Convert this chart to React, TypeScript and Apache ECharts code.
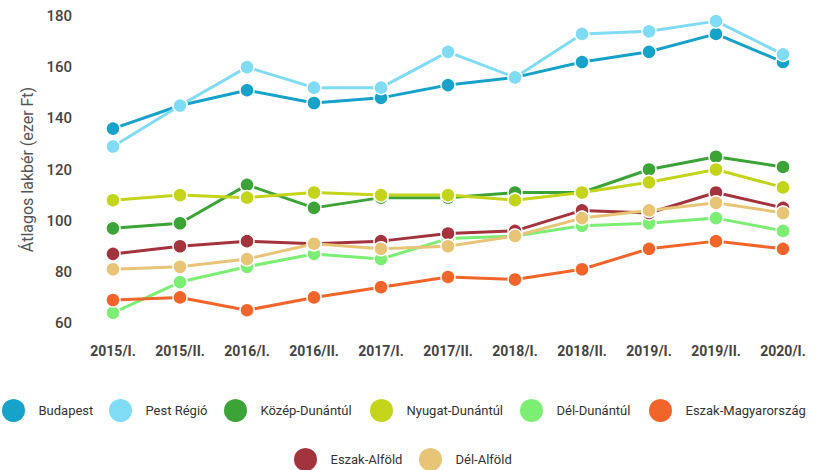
import React, { useEffect, useRef } from "react";
import * as echarts from "echarts";

const categories = ["2015/I.", "2015/II.", "2016/I.", "2016/II.", "2017/I.", "2017/II.", "2018/I.", "2018/II.", "2019/I.", "2019/II.", "2020/I."];

const budapest = [136, 145, 151, 146, 148, 153, 156, 162, 166, 173, 162];
const pestRegio = [129, 145, 160, 152, 152, 166, 156, 173, 174, 178, 165];
const kozepDunantul = [97, 99, 114, 105, 109, 109, 111, 111, 120, 125, 121];
const nyugatDunantul = [108, 110, 109, 111, 110, 110, 108, 111, 115, 120, 113];
const delDunantul = [64, 76, 82, 87, 85, 93, 94, 98, 99, 101, 96];
const eszakMagyarorszag = [69, 70, 65, 70, 74, 78, 77, 81, 89, 92, 89];
const eszakAlfold = [87, 90, 92, 91, 92, 95, 96, 104, 103, 111, 105];
const delAlfold = [81, 82, 85, 91, 89, 90, 94, 101, 104, 107, 103];

const seriesNames = ["Budapest", "Pest Régió", "Közép-Dunántúl", "Nyugat-Dunántúl", "Dél-Dunántúl", "Eszak-Magyarország", "Eszak-Alföld", "Dél-Alföld"];
const seriesData = [budapest, pestRegio, kozepDunantul, nyugatDunantul, delDunantul, eszakMagyarorszag, eszakAlfold, delAlfold];
const colors = ["#17a2c9", "#80dbf5", "#3ca336", "#c3d41a", "#7cee74", "#f2652a", "#a3333d", "#e8c476"];

const legendLeft = [0, 107, 222, 368, 518, 647, 292, 417];
const legendTop = [397, 397, 397, 397, 397, 397, 446, 446];

export default function App() {
  const ref = useRef<HTMLDivElement>(null);
  useEffect(() => {
    if (!ref.current) return;
    const chart = echarts.init(ref.current, null, { renderer: "svg" });
    const font = "Roboto, 'Noto Sans', sans-serif";
    chart.setOption({
      animation: false,
      backgroundColor: "#ffffff",
      color: colors,
      textStyle: { fontFamily: font },
      legend: seriesNames.map((n, i) => ({
        data: [n],
        left: legendLeft[i],
        top: legendTop[i],
        padding: 0,
        icon: "circle",
        itemWidth: 40,
        itemHeight: 25,
        itemGap: 0,
        textStyle: { fontSize: 13, color: "#333", fontFamily: font },
      })),
      grid: { left: 113, right: 34, top: 16, bottom: 147, containLabel: false },
      xAxis: {
        type: "category",
        data: categories,
        boundaryGap: false,
        axisLine: { show: false },
        axisTick: { show: false },
        splitLine: { show: false },
        axisLabel: { color: "#444", fontSize: 14, fontWeight: "bold", margin: 21, fontFamily: font },
      },
      yAxis: {
        type: "value",
        min: 60,
        max: 180,
        interval: 20,
        name: "Átlagos lakbér (ezer Ft)",
        nameLocation: "middle",
        nameGap: 75,
        nameTextStyle: { fontSize: 16, color: "#555", fontFamily: font },
        axisLine: { show: false },
        axisTick: { show: false },
        splitLine: { show: false },
        axisLabel: { color: "#444", fontSize: 15, margin: 41, fontFamily: font, fontWeight: 500 },
      },
      series: seriesNames.map((n, i) => ({
        name: n,
        type: "line",
        data: seriesData[i],
        symbol: "circle",
        symbolSize: 14,
        lineStyle: { width: 3 },
        itemStyle: { color: colors[i], borderColor: "#fff", borderWidth: 1.5 },
        emphasis: { disabled: true },
      })),
    });
    return () => chart.dispose();
  }, []);
  return <div ref={ref} style={{ position: "fixed", left: 0, top: 0, width: 817, height: 470 }} />;
}
